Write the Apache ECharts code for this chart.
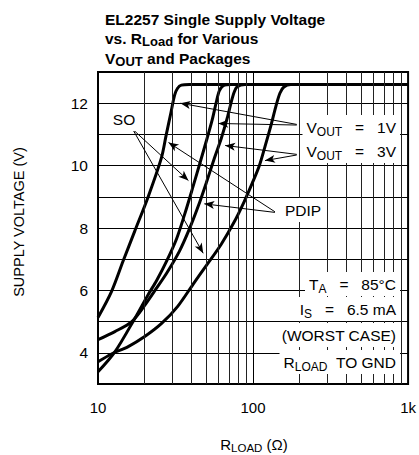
<!DOCTYPE html>
<html><head><meta charset="utf-8">
<script src="https://cdn.jsdelivr.net/npm/echarts@6/dist/echarts.min.js"></script>
<style>html,body{margin:0;padding:0;background:#fff}#c{width:419px;height:455px}</style>
</head><body><div id="c"></div>
<script>
// Supply voltage (V) vs R_LOAD (ohm)
const pdip1V = [[10,5.13],[12.24,5.97],[14.52,6.94],[17.26,7.90],[20.99,8.98],[25.58,10.23],[27.5,10.97],[29.6,11.72],[31.2,12.26],[32.6,12.48],[34.5,12.58],[38.9,12.6],[1000,12.6]];
const so1V = [[10,3.39],[12.85,4.03],[17.27,5.10],[20.92,5.84],[23.89,6.32],[27.70,6.94],[32.09,7.65],[36.12,8.42],[40.64,9.26],[45.75,10.13],[50.72,10.90],[54.61,11.48],[57.91,12.03],[60.54,12.39],[64.23,12.56],[72.28,12.6],[1000,12.6]];
const pdip3V = [[10,4.42],[12.85,4.68],[16.52,5.00],[20.01,5.52],[23.54,6.03],[27.70,6.55],[33.54,7.26],[38.88,7.97],[44.4,8.71],[49.96,9.45],[56.23,10.23],[62.36,10.87],[68.13,11.52],[72.28,12.03],[75.54,12.35],[78.95,12.53],[88.85,12.6],[1000,12.6]];
const so3V = [[10,3.71],[12.29,3.97],[15.57,4.19],[20.01,4.52],[25.72,4.94],[32.57,5.48],[41.86,6.26],[50.72,6.84],[62.36,7.48],[75.54,8.19],[87.57,8.84],[98.54,9.42],[109.3,9.97],[119.4,10.61],[130.5,11.29],[140.4,11.90],[149.0,12.32],[158.0,12.52],[175.2,12.6],[1000,12.6]];

const yTickLabels = [4, 6, 8, 10, 12];
const xTickLabels = {10: '10', 100: '100', 1000: '1k'};
const minorGridR = [20,30,40,50,60,70,80,90,200,300,400,500,600,700,800,900];

// annotation arrows: [from (R, V), to (R, V)]
const arrowsVout1 = [[[191.4,11.32],[34.0,12.0]], [[191.4,11.30],[59.7,11.35]]];
const arrowsVout3 = [[[191.4,10.36],[66.1,10.645]], [[191.4,10.34],[119.4,10.16]]];
const arrowsPdip = [[[138.4,8.52],[28.5,10.74]], [[138.4,8.50],[48.5,8.774]]];
const arrowsSo = [[[16.52,11.19],[38.3,9.52]], [[16.8,11.15],[47.7,7.19]]];

const FONT = '"Liberation Sans", Arial, sans-serif';
const chart = echarts.init(document.getElementById('c'), null, {renderer: 'svg'});

function curve(name, data) {
  return {name, type: 'line', data, smooth: 0.3, symbol: 'none', showSymbol: false, silent: true, z: 4,
    lineStyle: {color: '#000', width: 3}, animation: false};
}
const allArrows = [].concat(arrowsVout1, arrowsVout3, arrowsPdip, arrowsSo);

const mStyle = {fontSize: 15.5, fontFamily: FONT, color: '#000', lineHeight: 20};
const sStyle = {fontSize: 12, fontFamily: FONT, color: '#000', lineHeight: 20, padding: [10, 0, 0, 0]};
function label(text, x, y, align) {
  return {type: 'text', x, y, z: 20, silent: true,
    style: {text, align: align || 'right', verticalAlign: 'middle', backgroundColor: '#fff', padding: [2, 4, 2, 4],
      fontSize: 15.5, fontFamily: FONT, fill: '#000', rich: {m: mStyle, s: sStyle}}};
}
const tB = {fontSize: 15.5, fontFamily: FONT, fontWeight: 'bold', color: '#000', lineHeight: 18};
const tS = {fontSize: 13, fontFamily: FONT, fontWeight: 'bold', color: '#000', lineHeight: 18, padding: [6, 0, 0, 0]};
function titleLine(text, y) {
  return {type: 'text', x: 105, y, silent: true,
    style: {text, align: 'left', verticalAlign: 'middle', fontSize: 15.5, fontWeight: 'bold', fontFamily: FONT, fill: '#000', rich: {b: tB, s: tS}}};
}

chart.setOption({
  animation: false,
  backgroundColor: '#fff',
  grid: {left: 98, right: 9, top: 72, bottom: 71, show: true, borderColor: '#000', borderWidth: 2, backgroundColor: 'transparent'},
  xAxis: {type: 'log', logBase: 10, min: 10, max: 1000,
    axisLine: {show: true, lineStyle: {color: '#000', width: 2}}, axisTick: {show: false},
    axisLabel: {formatter: v => xTickLabels[Math.round(v)] || '', color: '#000', fontSize: 15, fontFamily: FONT, margin: 16},
    splitLine: {show: true, lineStyle: {color: '#000', width: 1}}},
  yAxis: {type: 'value', min: 3, max: 13, interval: 1,
    axisLine: {show: true, lineStyle: {color: '#000', width: 2}}, axisTick: {show: false},
    axisLabel: {formatter: v => yTickLabels.includes(v) ? String(v) : '', color: '#000', fontSize: 15.5, fontFamily: FONT, margin: 10},
    splitLine: {show: true, lineStyle: {color: '#000', width: 1}}},
  series: [
    {type: 'line', data: [], silent: true, z: 1,
      markLine: {silent: true, symbol: 'none', label: {show: false}, animation: false,
        lineStyle: {color: '#222', width: 1, type: 'solid'},
        data: minorGridR.map(v => ({xAxis: v}))}},
    curve('PDIP VOUT=1V', pdip1V),
    curve('SO VOUT=1V', so1V),
    curve('PDIP VOUT=3V', pdip3V),
    curve('SO VOUT=3V', so3V),
    {type: 'line', data: [], silent: true, z: 5,
      markLine: {silent: true, symbol: ['none', 'arrow'], symbolSize: [6, 10], label: {show: false}, animation: false,
        lineStyle: {color: '#000', width: 1, type: 'solid'},
        data: allArrows.map(a => [{coord: a[0]}, {coord: a[1]}])}}
  ],
  graphic: [
    titleLine('{b|EL2257 Single Supply Voltage}', 19.5),
    titleLine('{b|vs. R}{s|Load}{b| for Various}', 38.5),
    titleLine('{b|V}{s|OUT}{b| and Packages}', 58),
    label('{m|V}{s|OUT}{m|   =   1V}', 400, 127),
    label('{m|V}{s|OUT}{m|   =   3V}', 400, 151),
    label('{m|PDIP}', 281, 210, 'left'),
    label('{m|SO}', 124, 119, 'center'),
    label('{m|T}{s|A}{m|   =   85°C}', 400, 284),
    label('{m|I}{s|S}{m|   =   6.5 mA}', 400, 309),
    label('{m|(WORST CASE)}', 400, 335),
    label('{m|R}{s|LOAD}{m|  TO GND}', 400, 362),
    {type: 'text', x: 19, y: 222, rotation: Math.PI / 2, silent: true,
      style: {text: 'SUPPLY VOLTAGE (V)', align: 'center', verticalAlign: 'middle', fontSize: 14.5, fontFamily: FONT, fill: '#000'}},
    {type: 'text', x: 254, y: 444, silent: true,
      style: {text: '{m|R}{s|LOAD}{m| (Ω)}', align: 'center', verticalAlign: 'middle', fontSize: 15, fontFamily: FONT, fill: '#000',
        rich: {m: {fontSize: 15, fontFamily: FONT, color: '#000', lineHeight: 16}, s: {fontSize: 11.5, fontFamily: FONT, color: '#000', lineHeight: 16, padding: [7, 0, 0, 0]}}}}
  ]
});
</script></body></html>
